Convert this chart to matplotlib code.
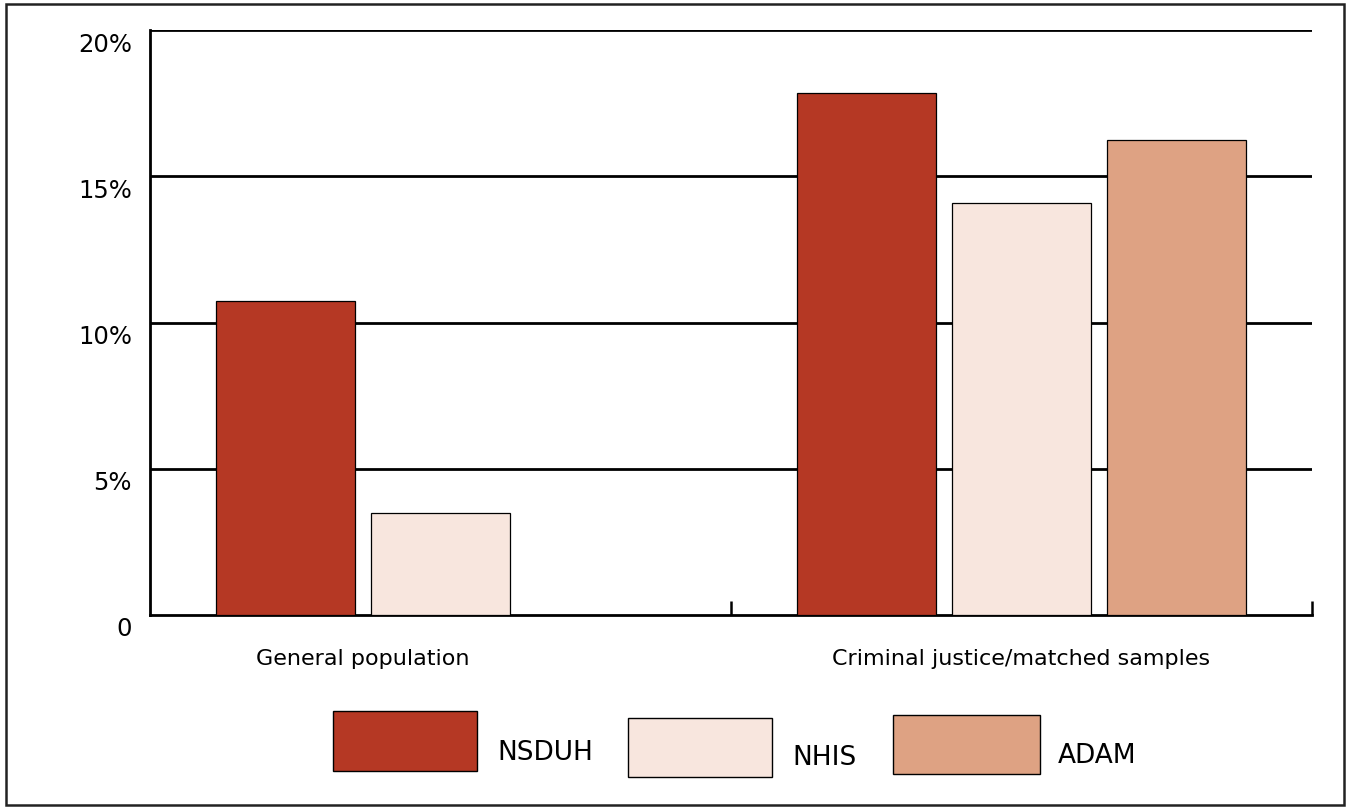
import matplotlib.pyplot as plt
from matplotlib.patches import Rectangle
import matplotlib.transforms as mtransforms

plt.rcParams['font.family'] = ['DejaVu Sans']

categories = ['General population', 'Criminal justice/matched samples']
series = ['NSDUH', 'NHIS', 'ADAM']
values = {
    'NSDUH': [10.75, 17.85],
    'NHIS': [3.5, 14.1],
    'ADAM': [None, 16.25],
}
colors = {'NSDUH': '#B53824', 'NHIS': '#F8E6DE', 'ADAM': '#DEA283'}
yticks = [0, 5, 10, 15, 20]
ytick_labels = ['0', '5%', '10%', '15%', '20%']

W, H = 1349, 808
FS = 16
fig = plt.figure(figsize=(W / 100, H / 100), dpi=100)
ax = fig.add_axes([150 / W, 1 - 615 / H, (1312 - 150) / W, (615 - 30) / H])

centers = [0.5, 1.5]
width = 0.239
offsets = [-0.2668, 0.0, 0.2668]
for s, off in zip(series, offsets):
    for c, v in zip(centers, values[s]):
        if v is None:
            continue
        ax.bar(c + off, v, width=width, color=colors[s], edgecolor='black',
               linewidth=0.9, zorder=3)

ax.set_xlim(0, 2)
ax.set_ylim(0, 20)
for y in yticks[1:]:
    ax.axhline(y, color='black', linewidth=2.0, zorder=1)

ax.set_yticks(yticks)
ax.set_yticklabels(ytick_labels, fontsize=17.5)
ax.tick_params(axis='y', length=0, pad=13)
offset = mtransforms.ScaledTranslation(0, -12 / 100, fig.dpi_scale_trans)
for lab in ax.get_yticklabels():
    lab.set_transform(lab.get_transform() + offset)

ax.set_xticks([1, 2])
ax.set_xticklabels([])
ax.tick_params(axis='x', direction='in', length=10, width=1.8, color='black')

for sp in ['top', 'right']:
    ax.spines[sp].set_visible(False)
for sp in ['left', 'bottom']:
    ax.spines[sp].set_linewidth(2.0)

# category labels under the groups
ax.text(0.5 - 0.2668 / 2, -0.075, categories[0], transform=ax.get_xaxis_transform(),
        ha='center', va='center', fontsize=FS)
ax.text(1.5, -0.075, categories[1], transform=ax.get_xaxis_transform(),
        ha='center', va='center', fontsize=FS)

# legend drawn as boxes in pixel positions
def px_rect(x0, y0, x1, y1, fc, lw=1.0, ec='black'):
    fig.patches.append(Rectangle((x0 / W, 1 - y1 / H), (x1 - x0) / W, (y1 - y0) / H,
                                 transform=fig.transFigure, facecolor=fc,
                                 edgecolor=ec, linewidth=lw))

legend_boxes = [(333, 711, 477, 771), (628, 718, 772, 777), (893, 715, 1040, 774)]
legend_text = [(497, 753), (792, 758), (1058, 756)]
for s, b, t in zip(series, legend_boxes, legend_text):
    px_rect(*b, colors[s])
    fig.text(t[0] / W, 1 - t[1] / H, s, ha='left', va='center', fontsize=19)

# outer frame
px_rect(6, 4, 1344, 805, 'none', lw=1.8, ec='#222222')

fig.savefig('out.png', dpi=100)
